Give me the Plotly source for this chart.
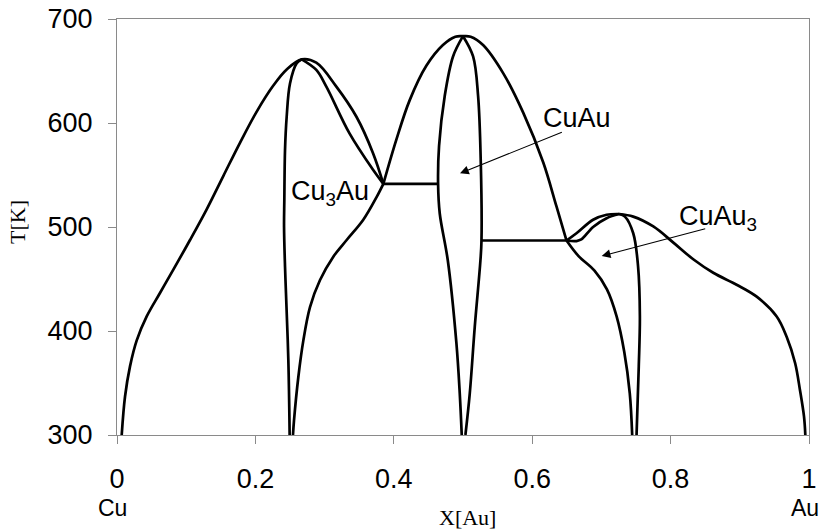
import plotly.graph_objects as go

# Cu-Au order/disorder phase diagram: composition X[Au] vs temperature T[K]

# Cu3Au field: outer dome from the Cu side over the maximum down to the eutectoid point
cu3au_outer_x = [0.0068, 0.0116, 0.0188, 0.0285, 0.0429, 0.0621, 0.0814, 0.1055, 0.1296,
                 0.1536, 0.1777, 0.2019, 0.2259, 0.2452, 0.2669, 0.288, 0.317, 0.346,
                 0.370, 0.3849]
cu3au_outer_T = [300, 337, 366, 391, 414, 436.5, 459, 487.5, 517,
                 549, 581, 611, 636, 651.5, 661.2, 658, 635, 606,
                 571, 541.5]

# inner branch from the Cu3Au maximum to the eutectoid point
cu3au_inner_x = [0.2669, 0.288, 0.3025, 0.336, 0.370, 0.3849]
cu3au_inner_T = [661.2, 651, 635, 590, 555, 541.5]

# Cu3Au left (steep) boundary
cu3au_left_x = [0.2669, 0.2597, 0.250, 0.2452, 0.2428, 0.2418, 0.2414, 0.2428, 0.2442,
                0.2476, 0.2495]
cu3au_left_T = [661.2, 657.4, 638, 606, 574, 526, 500, 462, 436, 372, 300]

# Cu3Au right boundary below the eutectoid point
cu3au_right_x = [0.3849, 0.3753, 0.3559, 0.3319, 0.3126, 0.2934, 0.2789, 0.2693, 0.2621,
                 0.2558, 0.2543]
cu3au_right_T = [541.5, 529, 507, 487.5, 471.5, 449, 423, 391, 356, 314, 300]

# CuAu dome
cuau_outer_x = [0.3849, 0.4037, 0.423, 0.447, 0.471, 0.489, 0.500, 0.511, 0.529, 0.558,
                0.587, 0.616, 0.635, 0.6496]
cuau_outer_T = [541.5, 584, 622, 655, 675, 683, 683.5, 683, 675, 648,
                610, 562, 520, 487]

# CuAu single-phase lens
cuau_left_x = [0.500, 0.4856, 0.4736, 0.4654, 0.464, 0.4664, 0.478, 0.4905, 0.4953, 0.4982]
cuau_left_T = [683.5, 664, 626, 578, 541.5, 513, 468, 388, 340, 300]
cuau_right_x = [0.500, 0.5146, 0.5218, 0.5257, 0.5267, 0.5252, 0.517, 0.5098, 0.5035]
cuau_right_T = [683.5, 664, 626, 562, 487, 468, 404, 340, 300]

# eutectoid tie lines
tie1_x = [0.3849, 0.464]
tie1_T = [541.5, 541.5]
tie2_x = [0.5267, 0.6496]
tie2_T = [487, 487]

# CuAu3 field
cuau3_lower_x = [0.6496, 0.667, 0.690, 0.708, 0.722, 0.733, 0.741, 0.7445]
cuau3_lower_T = [487, 472, 458, 440, 414, 380, 340, 300]
cuau3_lens_lo_x = [0.6496, 0.664, 0.671, 0.688, 0.7075, 0.7257]
cuau3_lens_lo_T = [487, 486.5, 488, 500, 508.5, 512.5]
cuau3_lens_hi_x = [0.6496, 0.664, 0.688, 0.7075, 0.7257]
cuau3_lens_hi_T = [487, 494, 507, 511.8, 512.5]
cuau3_outer_x = [0.7257, 0.746, 0.775, 0.804, 0.8327, 0.8616, 0.8954, 0.9244, 0.9533,
                 0.9677, 0.980, 0.987, 0.9928, 0.9947]
cuau3_outer_T = [512.5, 510, 500.5, 485, 469, 456, 444.5, 433, 414,
                 394.5, 369, 343, 317.6, 300]
cuau3_inner_x = [0.7257, 0.734, 0.746, 0.753, 0.7556, 0.754, 0.7508]
cuau3_inner_T = [512.5, 510, 494, 462, 414, 366, 300]

x_ticks = [0, 0.2, 0.4, 0.6, 0.8, 1]
x_tick_text = ["0", "0.2", "0.4", "0.6", "0.8", "1"]
t_ticks = [300, 400, 500, 600, 700]

curves = [
    (cu3au_outer_x, cu3au_outer_T, "spline"),
    (cu3au_inner_x, cu3au_inner_T, "spline"),
    (cu3au_left_x, cu3au_left_T, "spline"),
    (cu3au_right_x, cu3au_right_T, "spline"),
    (cuau_outer_x, cuau_outer_T, "spline"),
    (cuau_left_x, cuau_left_T, "spline"),
    (cuau_right_x, cuau_right_T, "spline"),
    (tie1_x, tie1_T, "linear"),
    (tie2_x, tie2_T, "linear"),
    (cuau3_lower_x, cuau3_lower_T, "spline"),
    (cuau3_lens_lo_x, cuau3_lens_lo_T, "spline"),
    (cuau3_lens_hi_x, cuau3_lens_hi_T, "spline"),
    (cuau3_outer_x, cuau3_outer_T, "spline"),
    (cuau3_inner_x, cuau3_inner_T, "spline"),
]

fig = go.Figure()
for xs, ts, shape in curves:
    fig.add_trace(go.Scatter(
        x=xs, y=ts, mode="lines",
        line=dict(color="black", width=2.7, shape=shape, smoothing=1.0),
        showlegend=False, hoverinfo="skip",
    ))

sans = "Liberation Sans, Arial, sans-serif"
serif = "Liberation Serif, Times New Roman, serif"

annotations = [
    # phase labels
    dict(x=0.3078, y=532.7, xref="x", yref="y", text="Cu<sub>3</sub>Au",
         showarrow=False, font=dict(family=sans, size=27, color="black")),
    dict(x=0.6647, y=604.8, xref="x", yref="y", text="CuAu",
         showarrow=False, font=dict(family=sans, size=27, color="black")),
    dict(x=0.8685, y=508.7, xref="x", yref="y", text="CuAu<sub>3</sub>",
         showarrow=False, font=dict(family=sans, size=27, color="black")),
    # pointer arrows
    dict(x=0.4957, y=551.6, ax=0.645, ay=591.6, xref="x", yref="y",
         axref="x", ayref="y", text="", showarrow=True,
         arrowhead=2, arrowsize=1.6, arrowwidth=1.1, arrowcolor="black"),
    dict(x=0.7004, y=472.1, ax=0.8522, ay=498.7, xref="x", yref="y",
         axref="x", ayref="y", text="", showarrow=True,
         arrowhead=2, arrowsize=1.6, arrowwidth=1.1, arrowcolor="black"),
    # end-member and axis labels
    dict(x=0, y=-0.1755, xref="x", yref="paper", xshift=-5, text="Cu",
         xanchor="center", yanchor="middle", showarrow=False,
         font=dict(family=sans, size=23, color="black")),
    dict(x=0.994, y=-0.1755, xref="x", yref="paper", text="Au",
         xanchor="center", yanchor="middle", showarrow=False,
         font=dict(family=sans, size=23, color="black")),
    dict(x=0.507, y=-0.1995, xref="x", yref="paper", text="X[Au]",
         xanchor="center", yanchor="middle", showarrow=False,
         font=dict(family=serif, size=22, color="black")),
    dict(x=-0.1445, y=0.512, xref="paper", yref="paper", text="T[K]",
         xanchor="center", yanchor="middle", textangle=-90, showarrow=False,
         font=dict(family=serif, size=22, color="black")),
]

axis_common = dict(
    showgrid=False, zeroline=False, showline=True, linecolor="#8a8a8a",
    linewidth=1, mirror=True, ticks="outside", ticklen=8, tickwidth=1,
    tickcolor="#8a8a8a", tickfont=dict(family=sans, size=27, color="black"),
    automargin=False,
)

fig.update_layout(
    width=824, height=531,
    margin=dict(l=117, r=15, t=19, b=96),
    paper_bgcolor="white", plot_bgcolor="white",
    xaxis=dict(range=[0, 1], tickvals=x_ticks, ticktext=x_tick_text,
               ticklabelstandoff=12, **axis_common),
    yaxis=dict(range=[300, 700], tickvals=t_ticks, ticklabelstandoff=10,
               **axis_common),
    annotations=annotations,
)

fig.write_html("out.html")
